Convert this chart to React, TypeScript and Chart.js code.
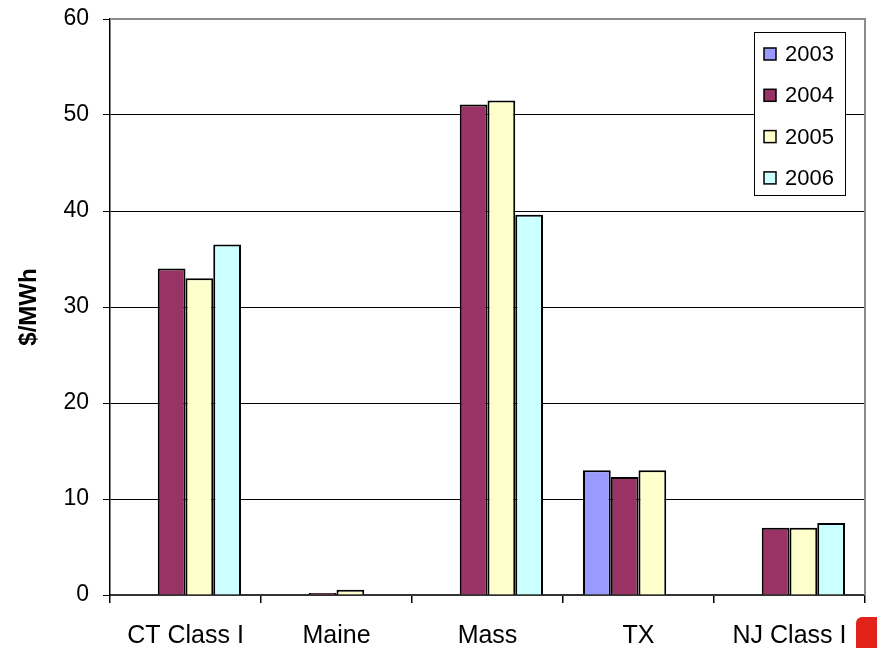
import React, { useEffect, useRef } from "react";
import { Chart, registerables } from "chart.js";

Chart.register(...registerables);

const categories = ["CT Class I", "Maine", "Mass", "TX", "NJ Class I"];
const years = ["2003", "2004", "2005", "2006"];
const values2003 = [null, null, null, 13.0, null];
const values2004 = [34.0, 0.2, 51.1, 12.3, 7.0];
const values2005 = [33.0, 0.55, 51.5, 13.0, 7.0];
const values2006 = [36.5, null, 39.6, null, 7.5];
const yearColors = ["#9999FF", "#993366", "#FFFFCC", "#CCFFFF"];
const yTicks = [0, 10, 20, 30, 40, 50, 60];

const FONT = "'Liberation Sans', Arial, sans-serif";

// Legend box drawn inside the plot area, top right
const boxLegend = {
  id: "boxLegend",
  afterDraw(chart: any) {
    const ctx = chart.ctx;
    const ds = chart.data.datasets;
    ctx.save();
    ctx.fillStyle = "#ffffff";
    ctx.fillRect(754, 32, 92, 164);
    ctx.strokeStyle = "#000000";
    ctx.lineWidth = 1;
    ctx.strokeRect(754.5, 32.5, 91, 163);
    ctx.font = `22px ${FONT}`;
    ctx.textBaseline = "middle";
    ctx.textAlign = "left";
    ds.forEach((d: any, i: number) => {
      const cy = 54 + i * 41.3;
      ctx.fillStyle = d.backgroundColor;
      ctx.fillRect(764, cy - 6, 12, 12);
      ctx.lineWidth = 1.5;
      ctx.strokeStyle = "#000000";
      ctx.strokeRect(764, cy - 6, 12, 12);
      ctx.fillStyle = "#000000";
      ctx.fillText(d.label, 785, cy + 1);
    });
    ctx.restore();
  },
};

// Gray frame on the top and right sides of the plot area
const plotFrame = {
  id: "plotFrame",
  beforeDatasetsDraw(chart: any) {
    const { ctx, chartArea } = chart;
    ctx.save();
    ctx.strokeStyle = "#8c8c8c";
    ctx.lineWidth = 2;
    ctx.beginPath();
    ctx.moveTo(chartArea.left, chartArea.top);
    ctx.lineTo(chartArea.right, chartArea.top);
    ctx.lineTo(chartArea.right, chartArea.bottom);
    ctx.stroke();
    ctx.restore();
  },
};

export default function App() {
  const canvasRef = useRef<HTMLCanvasElement | null>(null);

  useEffect(() => {
    document.body.style.margin = "0";
    const canvas = canvasRef.current;
    if (!canvas) return;
    const series = [values2003, values2004, values2005, values2006];
    const chart = new Chart(canvas, {
      type: "bar",
      data: {
        labels: categories,
        datasets: years.map((y, i) => ({
          label: y,
          data: series[i],
          backgroundColor: yearColors[i],
          borderColor: "#000000",
          borderWidth: 2,
          barPercentage: 1,
          categoryPercentage: 0.735,
        })),
      },
      options: {
        responsive: false,
        animation: false,
        devicePixelRatio: 1,
        layout: { padding: { left: 12, right: 12, top: 19, bottom: 0 } },
        plugins: {
          legend: { display: false },
          tooltip: { enabled: false },
        },
        scales: {
          x: {
            afterFit: (s: any) => {
              s.height = 53;
            },
            grid: {
              display: true,
              drawOnChartArea: false,
              offset: true,
              tickLength: 8,
              color: "#000000",
              lineWidth: 1.5,
            },
            border: { display: true, color: "#333333", width: 2 },
            ticks: {
              color: "#000000",
              font: { family: FONT, size: 25 },
              padding: 18,
              maxRotation: 0,
              autoSkip: false,
            },
          },
          y: {
            min: 0,
            max: 60,
            afterFit: (s: any) => {
              s.width = 98;
            },
            afterBuildTicks: (s: any) => {
              s.ticks = yTicks.map((v) => ({ value: v }));
            },
            grid: {
              color: (c: any) =>
                c.tick && c.tick.value === 60 ? "#8c8c8c" : "#000000",
              lineWidth: 1,
              tickLength: 7,
              tickColor: "#000000",
            },
            border: { display: true, color: "#000000", width: 1.5 },
            ticks: {
              color: "#000000",
              font: { family: FONT, size: 23, lineHeight: 0.4 },
              padding: 14,
              autoSkip: false,
            },
            title: {
              display: true,
              text: "$/MWh",
              color: "#000000",
              font: { family: FONT, size: 24, weight: "bold" },
              padding: { top: 3, bottom: 4 },
            },
          },
        },
      },
      plugins: [plotFrame, boxLegend],
    });
    return () => chart.destroy();
  }, []);

  return (
    <div style={{ position: "relative", width: 877, height: 648, background: "#ffffff", overflow: "hidden" }}>
      <canvas ref={canvasRef} width={877} height={648} style={{ display: "block" }} />
      <div
        style={{
          position: "absolute",
          left: 856,
          top: 617,
          width: 21,
          height: 31,
          background: "#E2231A",
          borderTopLeftRadius: 6,
        }}
      />
    </div>
  );
}
